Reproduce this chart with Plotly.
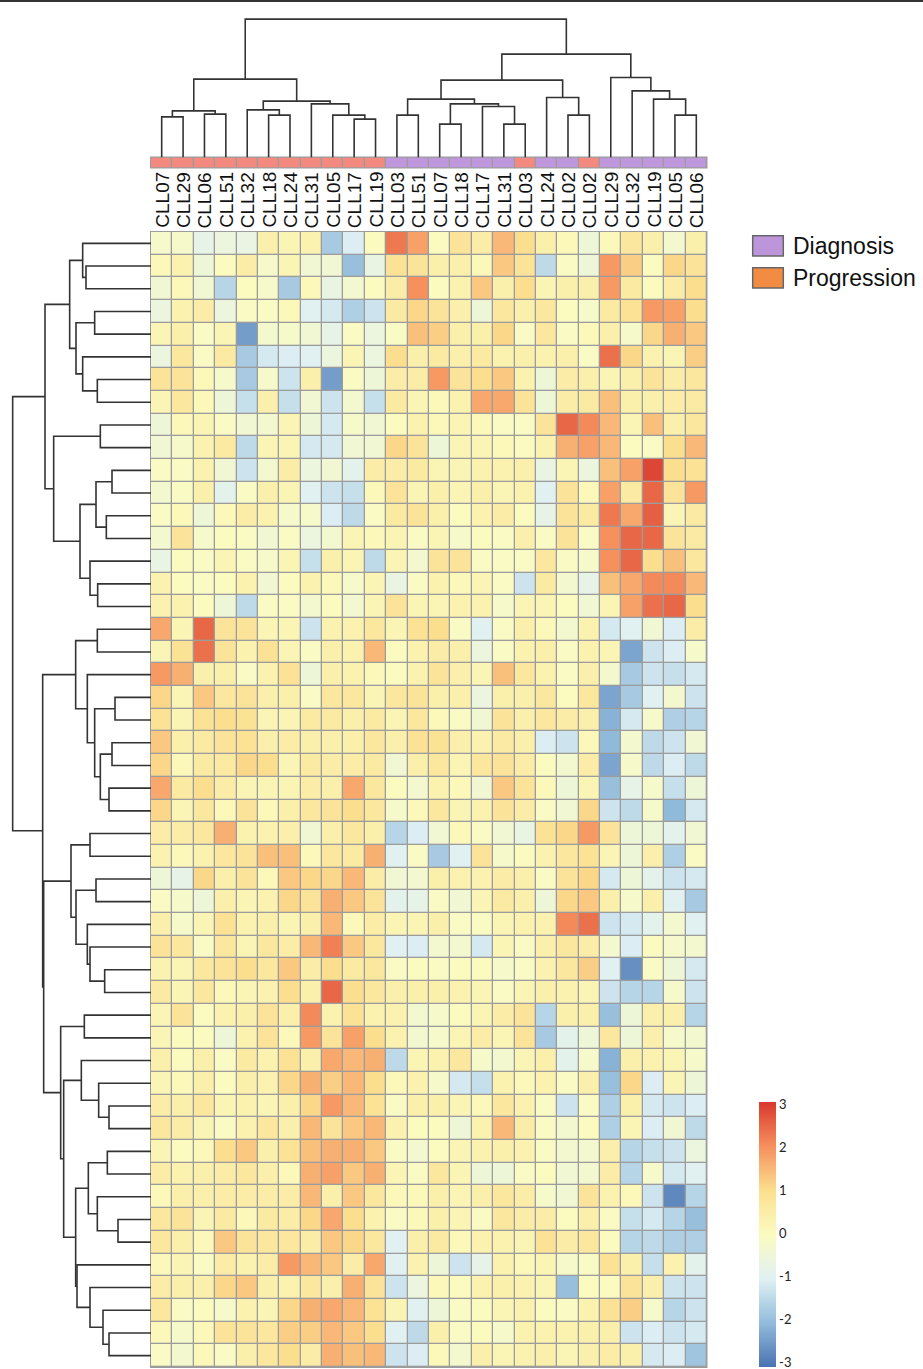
import plotly.graph_objects as go

# ---------------- data ----------------
col_labels = ["CLL07", "CLL29", "CLL06", "CLL51", "CLL32", "CLL18", "CLL24", "CLL31", "CLL05", "CLL17", "CLL19",
              "CLL03", "CLL51", "CLL07", "CLL18", "CLL17", "CLL31", "CLL03", "CLL24", "CLL02", "CLL02",
              "CLL29", "CLL32", "CLL19", "CLL05", "CLL06"]
col_group = ["Progression"] * 11 + ["Diagnosis"] * 6 + ["Progression"] + ["Diagnosis"] * 2 + ["Progression"] + ["Diagnosis"] * 5

# row cluster A (rows 1-17)
cluster_a = [
    [-0.2, -0.2, -0.8, -0.6, -0.7, 0.4, 0.2, 0.3, -1.8, -1.1, 0.0, 2.3, 1.8, 0.0, 0.8, 0.5, 1.5, 1.0, 0.4, 0.1, -0.5, 0.1, 0.7, 0.4, -0.3, 0.4],
    [0.1, 0.3, -0.5, 0.0, 0.5, -0.2, 0.2, -0.4, -0.4, -2.0, -0.7, 0.9, 0.8, 0.4, 0.4, 0.1, 1.3, 0.8, -1.5, -0.1, -0.5, 1.9, 1.2, 0.0, 1.1, 0.8],
    [-0.4, 0.1, -0.4, -1.6, 0.0, -0.2, -1.8, 0.1, -0.7, -0.3, 0.0, 0.5, 2.0, 0.0, 0.3, 1.3, 0.4, 1.0, 0.2, 0.4, 0.4, 1.9, 0.6, 0.0, 0.5, 1.0],
    [-0.6, 0.3, 0.5, -0.6, -0.1, -0.1, 0.1, -1.0, -1.2, -1.7, -1.3, 0.6, 1.1, 0.8, 0.4, -0.5, 0.7, 0.4, 0.7, 0.0, -0.2, 0.6, 0.9, 1.9, 1.8, 1.0],
    [0.2, 0.4, -0.1, 0.2, -2.5, -0.3, -0.2, -0.4, -0.8, -0.1, -0.6, -0.1, 1.4, 1.2, 0.4, 0.4, 1.1, -0.1, 0.7, -0.1, 0.1, 0.4, -0.2, 1.1, 1.6, 1.3],
    [-0.6, 0.7, -0.1, 0.6, -1.8, -1.2, -1.1, -1.0, -0.6, 0.2, -0.6, 1.0, 0.4, 0.6, 0.4, 0.6, 0.3, 0.4, 0.3, 0.4, -0.1, 2.4, 1.1, 0.3, 0.2, 1.2],
    [0.8, 0.8, 0.1, -0.2, -1.8, -0.2, -1.3, 0.4, -2.5, -0.1, -0.5, 0.5, 0.5, 1.9, 0.8, 1.0, 1.3, 0.3, -0.5, 0.5, 0.4, 0.2, 0.4, 0.8, 0.5, 0.7],
    [0.2, 0.7, 0.1, -0.5, -1.4, 0.4, -1.4, -0.4, -1.3, -0.3, -1.4, 0.6, 0.2, 0.1, 0.3, 1.7, 1.7, 0.8, -0.5, 0.5, 0.6, 1.4, 0.4, 0.4, 0.5, 0.6],
    [-0.5, 0.1, 0.2, -0.1, -0.4, -0.3, 0.2, -0.5, -1.2, -0.2, -0.4, 0.0, 0.3, 0.1, 0.2, 0.1, -0.1, -0.1, 0.8, 2.5, 2.1, 1.5, 0.2, 1.4, 0.4, 0.7],
    [-0.4, -0.2, 0.3, 0.6, -1.5, 0.2, 0.2, -1.2, -1.2, -0.4, -0.4, 1.1, 0.8, -0.5, 0.2, 0.2, 0.1, 0.0, 0.3, 1.6, 1.8, 1.5, 0.0, -0.1, 1.0, 1.5],
    [-0.1, -0.1, 0.3, -0.4, -1.3, -0.3, 0.5, -0.6, -0.4, -0.9, 0.5, 0.5, 0.6, 0.2, 0.2, 0.3, 0.3, 0.4, -0.7, 0.2, -0.6, 1.4, 1.8, 2.9, 1.0, 0.9],
    [-0.3, -0.1, 0.4, -0.9, -0.1, 0.4, 0.2, -1.0, -1.3, -1.4, 0.1, 0.8, 0.2, 0.4, 0.2, 0.4, 0.2, 0.3, -1.0, 0.8, 0.1, 1.8, 0.6, 2.5, 0.8, 1.9],
    [-0.1, 0.1, -0.5, 0.1, 0.5, 0.3, -0.2, -0.2, -1.1, -1.5, -0.1, 0.6, 0.8, 0.4, 0.0, 0.3, 0.5, 0.0, -0.8, 0.8, 0.6, 2.3, 1.7, 2.6, 0.2, 0.6],
    [-0.3, 0.8, -0.2, 0.0, -0.1, -0.4, -0.1, -0.6, -0.3, 0.2, 0.1, 0.2, -0.1, 0.2, -0.2, 0.0, -0.1, 0.4, -0.1, 0.8, -0.1, 2.0, 2.5, 2.5, 0.8, 0.6],
    [-0.7, 0.0, -0.1, 0.2, -0.1, -0.2, 0.2, -1.4, 0.4, 0.2, -1.5, 0.2, -0.3, 0.8, 0.8, -0.1, -0.1, -0.1, 0.7, -0.1, -0.2, 2.0, 2.5, 1.0, 1.4, 0.7],
    [0.3, 0.0, -0.1, 0.0, 0.3, -0.4, 0.0, 0.3, 0.1, -0.2, 0.2, -0.7, -0.1, 0.3, 0.1, 0.2, -0.1, -1.3, 0.6, -0.3, -0.8, 1.4, 1.7, 2.1, 2.1, 1.5],
    [0.3, 0.3, 0.0, -0.5, -1.5, -0.1, -0.1, -0.3, 0.0, -0.3, 0.2, 0.8, 0.2, 0.2, 0.3, 0.3, -0.2, 0.2, 0.2, 0.0, -0.4, 0.2, 1.8, 2.4, 2.5, 1.0],
]
# row cluster B (rows 18-26)
cluster_b = [
    [1.7, 0.2, 2.5, 0.8, 0.8, 0.2, 0.2, -1.3, 0.3, 0.3, 0.7, 0.2, 0.9, 1.0, -0.1, -1.0, -0.1, 0.4, 0.1, -0.3, 0.3, -1.2, -1.0, -0.4, -1.1, 0.5],
    [0.2, 0.9, 2.4, 0.8, 0.3, 0.9, 0.2, -0.1, 0.4, 0.3, 1.5, 0.0, 0.3, 0.5, 0.4, -0.6, -0.1, 0.3, 0.4, -0.1, 0.3, 0.2, -2.4, -1.3, -1.1, -0.2],
    [1.9, 1.6, 0.4, 0.4, -0.1, 0.3, 0.9, -0.5, 0.4, 0.3, 0.1, 0.0, 0.3, 0.8, 0.4, 0.2, 1.4, 0.7, 0.3, -0.1, 0.4, -0.3, -1.8, -1.3, -1.4, -1.2],
    [1.1, 0.2, 1.3, 0.7, 0.8, 0.4, 0.4, -0.1, 0.7, 0.7, 0.2, 0.7, 0.8, 0.4, 0.4, -0.6, 0.4, 0.4, 0.7, 0.0, 0.7, -2.4, -1.8, -1.0, -0.3, -1.3],
    [0.9, 0.2, 0.9, 1.0, 0.9, 0.2, 0.2, 0.6, 0.6, 0.4, 0.6, 0.2, 0.7, 0.1, -0.1, -0.4, 0.8, 0.4, 0.7, 0.5, 0.4, -2.2, -1.2, -0.2, -1.7, -1.6],
    [1.3, 0.4, 0.6, 0.8, 0.9, 0.4, 0.5, 0.4, 0.4, 0.4, 0.7, 0.4, 0.9, 0.9, 0.4, 0.3, 0.6, 0.4, -1.1, -1.3, 0.1, -2.1, -0.3, -1.5, -1.3, -0.4],
    [1.1, 0.1, 0.6, 0.6, 1.1, 1.0, 0.2, 0.6, 0.5, 0.5, 0.6, -0.4, 0.4, 0.7, 0.2, 0.7, 0.8, 0.5, 0.0, -0.3, 0.5, -2.4, -0.2, -1.5, -1.1, -1.5],
    [1.7, 0.6, 1.0, 0.5, 0.2, 0.2, 0.2, 0.5, 0.4, 1.7, 0.7, 0.0, -0.3, 0.3, 0.1, -0.4, 1.3, 0.8, 0.1, -0.5, 0.2, -2.0, -0.8, -0.2, -1.4, -0.5],
    [1.1, 0.2, 0.7, 0.1, 0.8, 0.1, 0.4, 0.7, 0.8, 1.0, 0.7, -0.2, 0.1, 0.7, 0.2, 0.3, 0.8, 0.5, -0.1, -0.4, 1.1, -1.3, -1.5, -0.2, -2.1, -1.2],
]
# row cluster C (rows 27-34)
cluster_c = [
    [0.5, 0.5, 0.7, 1.6, 0.3, 0.3, 0.4, -0.4, 0.4, 0.7, 0.4, -1.6, -1.1, -0.4, 0.1, -0.1, -0.4, -0.7, 0.9, 1.1, 1.9, 0.8, -0.5, -0.5, -0.9, -0.4],
    [0.3, 0.1, 0.3, 0.7, 0.8, 1.4, 1.4, 0.1, 0.7, 0.6, 1.6, -1.0, -0.1, -1.8, -1.0, 0.8, -0.2, 0.0, 0.3, 0.7, 0.9, 0.2, -0.5, 0.4, -1.7, -0.1],
    [-0.5, -0.8, 1.1, 0.4, 0.8, 0.1, 1.3, 1.1, 1.1, 1.5, 0.5, -0.4, -0.3, 0.4, 0.3, 0.3, 0.5, 0.4, -0.1, 0.8, 1.1, -1.2, -0.5, -0.9, -1.3, -1.2],
    [-0.1, -0.2, -0.5, 0.4, 0.2, 0.3, 1.1, 0.8, 1.6, 1.3, 0.8, -0.9, -0.8, -0.1, -0.4, 0.2, 0.6, 0.4, -0.5, 1.1, 1.3, 0.4, -0.2, 0.4, -1.0, -1.8],
    [0.4, -0.2, 0.2, 0.9, 0.3, 0.4, 0.2, 0.4, 1.5, 0.1, 0.5, 0.2, 0.2, 0.4, -0.1, -0.1, 0.2, 0.3, 0.3, 2.1, 2.4, -1.3, -1.2, -0.9, -0.3, -1.0],
    [0.8, 0.7, -0.1, 0.7, 0.2, 0.7, 0.5, 1.5, 2.2, 1.3, 0.7, -1.0, -1.1, -0.3, -0.3, -1.2, 0.2, -0.1, 0.4, 0.7, 0.5, -0.3, -1.1, 0.0, -0.2, -0.3],
    [0.3, 0.2, 0.7, 0.8, 1.0, 0.7, 1.3, 0.5, 1.0, 0.6, 0.7, -0.1, 0.0, -0.1, 0.0, 0.0, -0.2, -0.1, 0.3, 0.7, 1.2, -1.0, -2.7, -0.1, -0.5, -1.2],
    [0.6, 0.2, 0.7, 0.1, 0.2, 0.3, 1.0, 0.4, 2.5, 1.0, 0.7, 0.4, 0.4, 0.4, 0.3, 0.2, -0.1, 0.2, 0.4, 0.3, 0.2, -1.3, -1.6, -1.6, -0.2, -1.3],
]
# row cluster D (rows 35-50)
cluster_d = [
    [0.2, 0.8, 0.0, 0.3, 0.4, 0.8, 0.4, 2.1, 0.3, 0.9, 0.3, 0.3, -0.3, -0.2, 0.0, 0.2, 0.5, 0.8, -1.6, 0.4, 0.4, -2.0, -0.5, 0.4, 0.4, -1.6],
    [0.2, 0.0, 0.0, -0.5, 0.3, 0.8, 0.1, 1.9, 0.8, 1.8, 1.0, 0.3, -0.3, -0.2, 0.2, 0.5, 0.2, 0.8, -1.8, -0.9, -0.5, 0.7, -0.5, 0.4, -0.2, -0.3],
    [0.4, 0.0, 0.4, -0.1, 0.6, 0.3, 0.9, 0.4, 1.7, 1.5, 1.6, -1.5, 0.2, 0.3, 0.7, -0.2, -0.3, 0.2, 0.4, -0.9, -0.2, -2.2, 0.4, 0.3, 0.2, -0.2],
    [0.2, 0.1, 0.4, 0.0, 0.4, 0.3, 1.1, 1.6, 1.2, 1.5, 1.0, 0.1, 0.3, -0.2, -1.2, -1.4, 0.3, 0.1, 0.3, -0.1, 0.4, -2.0, 1.1, -1.1, 0.2, -0.5],
    [0.5, 0.4, 0.7, 0.2, 0.3, 0.2, 0.4, 1.1, 1.9, 1.5, 0.9, -0.1, 0.4, 0.4, 0.2, 0.1, 0.7, 0.3, -0.1, -1.3, -0.1, -1.7, 0.4, -1.2, -1.3, -1.1],
    [0.7, 0.5, 0.2, -0.1, 0.3, 0.7, 0.4, 1.5, 0.8, 1.3, 1.5, 0.3, 0.0, 0.0, -0.5, 0.3, 1.5, 0.5, -0.1, -0.3, 0.0, -1.7, 0.2, -1.1, -0.4, -1.5],
    [0.2, 0.0, 0.1, 1.0, 1.3, 0.4, 0.9, 1.4, 1.6, 1.6, 1.3, -0.1, -0.3, 0.0, 0.2, 0.3, 0.4, 0.3, -0.1, -0.3, -0.3, 0.4, -1.6, -1.4, -1.3, -0.6],
    [0.5, 0.3, 0.4, 0.5, 0.7, 0.4, 0.1, 1.6, 1.8, 1.3, 1.6, 0.2, -0.1, 0.7, 0.2, -0.5, -0.5, -0.1, 0.0, -0.4, -0.3, 0.5, -1.6, -0.2, -1.2, -1.0],
    [0.1, 0.4, 0.4, 0.5, 0.5, 0.5, 0.5, 1.5, 0.4, 1.3, 0.7, 0.1, 0.1, 0.4, 0.2, 0.4, 0.7, 0.5, -0.2, -0.4, 0.8, 0.3, 0.1, -1.3, -2.8, -1.6],
    [0.7, 0.8, 0.2, 0.6, 0.1, 0.6, 0.5, 1.1, 1.7, 1.0, 0.3, -0.1, 0.1, 0.4, 0.2, -0.1, 0.7, 0.5, 0.5, 0.0, 0.4, -0.1, -1.4, -1.2, -1.6, -2.0],
    [0.7, 0.4, 0.1, 1.3, 0.8, 0.7, 0.7, 0.5, 1.3, 1.1, 0.7, -1.0, 0.4, 0.6, 0.1, 0.3, 0.3, 0.2, 0.9, 0.5, 0.7, 0.0, -1.6, -1.5, -1.7, -1.7],
    [0.1, 0.2, -0.1, 0.5, 0.3, 0.5, 1.9, 1.5, 1.3, 0.5, 1.7, -1.0, 0.3, -0.5, -1.3, -0.8, 0.3, 0.1, 0.2, -0.2, -0.1, 0.9, 0.4, -1.4, 0.3, -0.9],
    [0.5, 0.4, 0.4, 1.1, 1.3, 0.4, 0.3, 0.7, 0.4, 1.6, 0.8, -1.3, -0.6, 0.1, 0.0, 0.3, 0.4, 0.3, 0.2, -2.0, 0.0, 0.0, 0.8, 0.4, -1.3, -1.3],
    [0.7, -0.1, 0.0, -0.2, 0.3, 0.2, 1.1, 1.6, 1.7, 1.5, 0.9, 0.2, -1.0, -0.5, -0.1, 0.0, 0.2, 0.3, 0.0, -0.1, 0.3, 0.9, 1.2, -0.2, -1.6, -1.3],
    [0.1, -0.2, 0.1, 0.8, 0.8, 0.7, 1.2, 1.2, 1.5, 1.3, 1.0, -1.0, -1.5, 0.4, -0.1, 0.0, -0.2, 0.3, 0.3, 0.3, 0.4, 0.4, -1.3, -1.1, -1.3, -1.2],
    [-0.1, -0.3, 0.1, -0.1, 0.4, 0.7, 1.0, 0.5, 1.6, 1.4, 1.5, -1.3, -1.1, 0.1, -0.3, 0.4, 0.2, 0.3, 0.4, 0.2, 0.4, 0.5, 0.4, -1.2, -1.1, -1.9],
]

# column dendrogram merges: (child, child, height); "L#" = leaf, "N#" = earlier merge
col_merges = [
    ("L0", "L1", 122), ("L2", "L3", 130), ("N0", "N1", 140),
    ("L5", "L6", 127), ("L4", "N3", 143), ("L9", "L10", 115), ("L8", "N5", 127),
    ("L7", "N6", 161), ("N4", "N7", 169), ("N2", "N8", 235),
    ("L11", "L12", 127), ("L13", "L14", 100), ("L16", "L17", 100), ("L15", "N12", 153),
    ("N11", "N13", 161), ("N10", "N14", 175), ("L19", "L20", 127), ("L18", "N16", 180),
    ("N15", "N17", 232), ("L24", "L25", 127), ("L23", "N19", 175), ("L22", "N20", 200),
    ("L21", "N21", 240), ("N18", "N22", 310), ("N9", "N23", 415),
]
# row dendrogram merges
row_merges = [
    ("L1", "L2", 195), ("L0", "N0", 205), ("L3", "L4", 169), ("L6", "L7", 161),
    ("L5", "N3", 205), ("N2", "N4", 225), ("N1", "N5", 244), ("L8", "L9", 152),
    ("L10", "L11", 117), ("L12", "L13", 134), ("N8", "N9", 165), ("L15", "L16", 160),
    ("L14", "N11", 183), ("N10", "N12", 213), ("N7", "N13", 292), ("N6", "N14", 318),
    ("L17", "L18", 161), ("L20", "L21", 108), ("L22", "L23", 117), ("L24", "L25", 126),
    ("N18", "N19", 152), ("N17", "N20", 169), ("L19", "N21", 191), ("N16", "N22", 226),
    ("L26", "L27", 183), ("L28", "L29", 165), ("L32", "L33", 139), ("L31", "N26", 183),
    ("L30", "N27", 191), ("N25", "N28", 225), ("N24", "N29", 240),
    ("L34", "L35", 200), ("L38", "L39", 126), ("L37", "N32", 157), ("L36", "N33", 209),
    ("L40", "L41", 131), ("L43", "L44", 99), ("L42", "N36", 161), ("N35", "N37", 188),
    ("L48", "L49", 126), ("L47", "N39", 144), ("L46", "N40", 183), ("L45", "N41", 222),
    ("N38", "N42", 226), ("N34", "N43", 262), ("N31", "N44", 271), ("N30", "N45", 322),
    ("N23", "N46", 325), ("N15", "N47", 415),
]

colorbar_ticks = [3, 2, 1, 0, -1, -2, -3]
color_min, color_max = -3.1, 3.05
group_bar_colors = {"Progression": "#f4897f", "Diagnosis": "#bf97dc"}
legend_colors = {"Diagnosis": "#bd95db", "Progression": "#f28c42"}

# ---------------- geometry (pixels) ----------------
W, H = 923, 1369
HM_L, HM_R, HM_T, HM_B = 151, 707, 232, 1367
BAR_T, BAR_B = 157.5, 167.5
CB_T = 1102
UNIT = 3.0  # dendrogram height units per pixel


def fx(p):
    return p / W


def fy(p):
    return 1 - p / H


z = cluster_a + cluster_b + cluster_c + cluster_d
n_rows, n_cols = len(z), len(col_labels)
assert all(len(r) == n_cols for r in z), [len(r) for r in z]


def dendro(merges, n_leaves):
    pos = {f"L{i}": float(i) for i in range(n_leaves)}
    hgt = {f"L{i}": 0.0 for i in range(n_leaves)}
    p, h = [], []
    for k, (a, b, ht) in enumerate(merges):
        pa, pb = pos[a], pos[b]
        p += [pa, pa, pb, pb, None]
        h += [hgt[a], ht, ht, hgt[b], None]
        pos[f"N{k}"] = (pa + pb) / 2
        hgt[f"N{k}"] = ht
    return p, h


colorscale = [
    [0.0, "#4a72b2"], [1 / 6, "#92bcdb"], [2 / 6, "#e0f1f4"], [0.5, "#fbfbc0"],
    [4 / 6, "#fbdf8f"], [5 / 6, "#f68f5d"], [1.0, "#d8392e"],
]

fig = go.Figure()

fig.add_trace(go.Heatmap(
    z=z, x=list(range(n_cols)), y=list(range(n_rows)),
    zmin=color_min, zmax=color_max, colorscale=colorscale, xgap=1.3, ygap=1.3,
    xaxis="x", yaxis="y",
    colorbar=dict(
        thickness=17, thicknessmode="pixels", len=HM_B - CB_T, lenmode="pixels",
        x=fx(759), xanchor="left", y=fy(HM_B), yanchor="bottom",
        tickvals=colorbar_ticks, ticktext=[str(t) for t in colorbar_ticks],
        ticks="", outlinewidth=0, xpad=0, ypad=0, ticklabeloverflow="allow",
        tickfont=dict(family="Lato", size=13, color="#222"),
    ),
))

groups = sorted(set(col_group))
fig.add_trace(go.Heatmap(
    z=[[groups.index(g) for g in col_group]], x=list(range(n_cols)), y=[0],
    zmin=0, zmax=1,
    colorscale=[[0, group_bar_colors[groups[0]]], [1, group_bar_colors[groups[1]]]],
    showscale=False, xgap=1.3, ygap=0, xaxis="x2", yaxis="y2", hoverinfo="skip",
))

cp, ch = dendro(col_merges, n_cols)
fig.add_trace(go.Scatter(x=cp, y=ch, mode="lines", line=dict(color="#333333", width=1.6),
                         xaxis="x3", yaxis="y3", hoverinfo="skip", showlegend=False))
rp, rh = dendro(row_merges, n_rows)
fig.add_trace(go.Scatter(x=rh, y=rp, mode="lines", line=dict(color="#333333", width=1.6),
                         xaxis="x4", yaxis="y4", hoverinfo="skip", showlegend=False))

hidden = dict(visible=False, showgrid=False, zeroline=False, fixedrange=True)
hm_x_dom = [fx(HM_L), fx(HM_R)]
hm_y_dom = [fy(HM_B), fy(HM_T)]

shapes = [
    dict(type="rect", xref="paper", yref="paper", x0=fx(HM_L - 1), x1=fx(HM_R + 0.5),
         y0=fy(HM_B + 1), y1=fy(HM_T - 1), fillcolor="#9c9c9c", line=dict(width=0), layer="below"),
    dict(type="rect", xref="paper", yref="paper", x0=fx(HM_L - 1), x1=fx(HM_R + 0.5),
         y0=fy(BAR_B + 1), y1=fy(BAR_T - 1), fillcolor="#9c9c9c", line=dict(width=0), layer="below"),
    dict(type="line", xref="paper", yref="paper", x0=0, x1=1, y0=fy(1), y1=fy(1),
         line=dict(color="#333333", width=2)),
]

annotations = []
for i, lab in enumerate(col_labels):
    annotations.append(dict(
        x=i, xref="x", y=fy(230), yref="paper", text=lab, showarrow=False,
        textangle=-90, xanchor="center", yanchor="bottom",
        font=dict(family="Liberation Sans, Arial", size=19, color="#111"),
    ))

legend_items = ["Diagnosis", "Progression"]
leg_tops = [235.7, 267.7]
for name, top in zip(legend_items, leg_tops):
    shapes.append(dict(type="rect", xref="paper", yref="paper", x0=fx(752.7), x1=fx(783.3),
                       y0=fy(top + 20.3), y1=fy(top), fillcolor=legend_colors[name],
                       line=dict(color="#666666", width=1.5)))
    annotations.append(dict(x=fx(791), y=fy(top + 10.5), xref="paper", yref="paper",
                            text=name, showarrow=False, xanchor="left", yanchor="middle",
                            font=dict(family="Liberation Sans, Arial", size=23, color="#111")))

fig.update_layout(
    width=W, height=H, margin=dict(l=0, r=0, t=0, b=0),
    paper_bgcolor="white", plot_bgcolor="rgba(0,0,0,0)", showlegend=False,
    xaxis=dict(domain=hm_x_dom, range=[-0.5, n_cols - 0.5], **hidden),
    yaxis=dict(domain=hm_y_dom, range=[n_rows - 0.5, -0.5], **hidden),
    xaxis2=dict(domain=hm_x_dom, range=[-0.5, n_cols - 0.5], **hidden),
    yaxis2=dict(domain=[fy(BAR_B), fy(BAR_T)], range=[-0.5, 0.5], **hidden),
    xaxis3=dict(domain=hm_x_dom, range=[-0.5, n_cols - 0.5], **hidden),
    yaxis3=dict(domain=[fy(BAR_T), 1], range=[0, BAR_T * UNIT], **hidden),
    xaxis4=dict(domain=[0, fx(HM_L)], range=[HM_L * UNIT, 0], **hidden),
    yaxis4=dict(domain=hm_y_dom, range=[n_rows - 0.5, -0.5], **hidden),
    shapes=shapes, annotations=annotations,
)

fig.write_html(
    "out.html",
    config={"displayModeBar": False},
    post_script="document.body.style.margin='0';document.body.style.overflow='hidden';",
)
